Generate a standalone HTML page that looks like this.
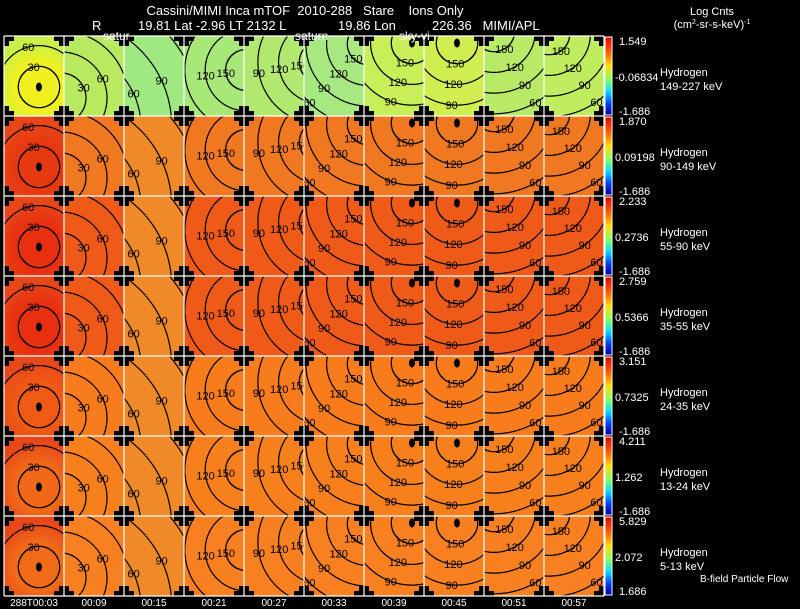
<!DOCTYPE html>
<html><head><meta charset="utf-8">
<style>
html,body{margin:0;padding:0;background:#000;}
body{width:800px;height:609px;overflow:hidden;font-family:"Liberation Sans",sans-serif;}
svg text{font-family:"Liberation Sans",sans-serif;}
</style></head>
<body>
<svg id="chart" width="800" height="609" viewBox="0 0 800 609" xmlns="http://www.w3.org/2000/svg" style="display:block">
<defs>
<linearGradient id="cbar" x1="0" y1="0" x2="0" y2="1">
<stop offset="0" stop-color="#e00000"/><stop offset="0.2" stop-color="#ff6000"/>
<stop offset="0.38" stop-color="#ffe000"/><stop offset="0.55" stop-color="#80ff60"/>
<stop offset="0.7" stop-color="#00e0ff"/><stop offset="0.85" stop-color="#0040ff"/>
<stop offset="1" stop-color="#0000a0"/></linearGradient>
</defs>
<text x="305" y="15" fill="#fff" font-size="13" text-anchor="middle" xml:space="preserve">Cassini/MIMI Inca mTOF  2010-288   Stare    Ions Only</text>
<text x="92" y="30" fill="#fff" font-size="13">R</text>
<text x="138" y="30" fill="#fff" font-size="13">19.81 Lat -2.96 LT 2132 L</text>
<text x="338" y="30" fill="#fff" font-size="13">19.86 Lon</text>
<text x="432" y="30" fill="#fff" font-size="13" xml:space="preserve">226.36   MIMI/APL</text>
<text x="712" y="15" fill="#fff" font-size="11" text-anchor="middle">Log Cnts</text>
<text x="712" y="28" fill="#fff" font-size="11" text-anchor="middle">(cm<tspan font-size="7" dy="-4">2</tspan><tspan dy="4">-sr-s-keV)</tspan><tspan font-size="7" dy="-4">-1</tspan></text>
<g id="panels"></g>
<g id="overlay"></g>
</svg>
<script>
// ---- data ----
const times = ["288T00:03","00:09","00:15","00:21","00:27","00:33","00:39","00:45","00:51","00:57"];
const energies = ["149-227 keV","90-149 keV","55-90 keV","35-55 keV","24-35 keV","13-24 keV","5-13 keV"];
const cbarMax = ["1.549","1.870","2.233","2.759","3.151","4.211","5.829"];
const cbarMid = ["-0.06834","0.09198","0.2736","0.5366","0.7325","1.262","2.072"];
const cbarMin = ["-1.686","-1.686","-1.686","-1.686","-1.686","-1.686","1.686"];
const rowBase = [null,"#f07820","#f05a18","#f05a18","#f87c1c","#f8801c","#f88020"];
const rowCenter = ["#f0f020","#e83810","#e83010","#e83010","#f05a14","#f06818","#f06a18"];
const rowOneCols = ["#c8f048","#b8ea60","#a0e880","#a8e878","#b0e870","#a8e880","#c8ee58","#d0ee50","#b8ea68","#c0ec60"];
const colTint = ["#e84818",null,"#f08a28",null,null,null,null,null,null,null];
// contour geometry per column
const cCx = [35,-3,-60,62,76,64,48,33,10,5];
const cCy = [51,62,90,34,26,8,7,7,-5,-2];
const cRef = [0,0,0,180,180,180,180,180,180,180];
const cOff = [0,4,15,0,0,0,0,0,0,0];
const cSc = [0.69,0.7,1.03,0.68,0.69,0.69,0.69,0.69,0.69,0.69];
const cLevels = [[30,60],[30,60,90],[60,90,120],[90,120,150],[90,120,150],[60,90,120,150],[60,90,120,150],[60,90,120,150],[60,90,120,150],[60,90,120,150]];
const cLabelAng = [-105,-25,-25,172,170,135,110,95,60,55];
const dotCols = [0,6,7];

const X0=4, Y0=36, PW=60, PH=80;
const NS="http://www.w3.org/2000/svg";
const G=document.getElementById('panels');
const O=document.getElementById('overlay');
function mk(tag,attrs,parent){const e=document.createElementNS(NS,tag);for(const k in attrs)e.setAttribute(k,attrs[k]);parent.appendChild(e);return e;}
const defs=document.querySelector('defs');
function inside(px,py,x,y){return px>=x&&px<=x+PW&&py>=y&&py<=y+PH;}

for(let r=0;r<energies.length;r++){
  for(let c=0;c<times.length;c++){
    const x=X0+c*PW, y=Y0+r*PH;
    let base = r===0 ? rowOneCols[c] : (colTint[c] && c!==0 ? colTint[c] : rowBase[r]);
    const outer = c===0 ? (r===0 ? rowOneCols[0] : colTint[0]) : base;
    const gid='g'+r+'_'+c;
    const rg=mk('radialGradient',{id:gid,gradientUnits:'userSpaceOnUse',cx:x+(c===0?35:30),cy:y+(c===0?51:40),r:45},defs);
    mk('stop',{offset:'0','stop-color':c===0?rowCenter[r]:base},rg);
    mk('stop',{offset:c===0?'0.55':'0','stop-color':c===0?rowCenter[r]:base},rg);
    mk('stop',{offset:'1','stop-color':outer},rg);
    const g=mk('g',{},G);
    
    
    mk('rect',{x:x,y:y,width:PW,height:PH,fill:'url(#'+gid+')'},g);
    const cx=x+cCx[c], cy=y+cCy[c];
    cLevels[c].forEach(lv=>{
      const rad=cOff[c]+Math.abs(lv-cRef[c])*cSc[c];
      let d='', pen=false;
      for(let k=0;k<=1440;k++){
        const a=k*Math.PI/720;
        const px=cx+rad*Math.cos(a), py=cy+rad*Math.sin(a);
        if(inside(px,py,x,y)){d+=(pen?'L':'M')+px.toFixed(1)+' '+py.toFixed(1);pen=true;}
        else pen=false;
      }
      if(d){
        const p=mk('path',{d:d,fill:'none',stroke:'#000','stroke-width':1.2},g);
        
        
      }
      const a=cLabelAng[c]*Math.PI/180;
      const lx=cx+rad*Math.cos(a), ly=cy+rad*Math.sin(a);
      if(lx>x+4&&lx<x+PW-4&&ly>y+4&&ly<y+PH-4){
        const t=mk('text',{x:lx,y:ly+4,'font-size':11,'text-anchor':'middle',fill:'#000'},g);
        
        
        t.textContent=lv;
      }
    });
    if(dotCols.includes(c)){
      const d=mk('ellipse',{cx:cx,cy:cy,rx:3,ry:4.5,fill:'#000'},g);
      
      
    }
    [[x,y,1,1],[x+PW,y,-1,1],[x,y+PH,1,-1],[x+PW,y+PH,-1,-1]].forEach(([px,py,sx,sy])=>{
      mk('rect',{x:sx>0?px:px-10,y:sy>0?py:py-5,width:10,height:5,fill:'#000'},g);
      mk('rect',{x:sx>0?px:px-5,y:sy>0?py:py-10,width:5,height:10,fill:'#000'},g);
    });
  }
  const by=Y0+r*PH;
  const cb=mk('rect',{x:605,y:by+1,width:7,height:PH-2,fill:'url(#cbar)',stroke:'#fff','stroke-width':1},O);
  
  
  [[cbarMax[r],by+9,619],[cbarMid[r],by+45,615],[cbarMin[r],by+79,619]].forEach(([s,ty,tx],i)=>{
    const t=mk('text',{x:tx,y:ty,'font-size':11,fill:'#fff'},O);
    
    
    t.textContent=s;
  });
  const h=mk('text',{x:660,y:by+40,'font-size':11,fill:'#fff'},O);
  
  
  h.textContent='Hydrogen';
  const e=mk('text',{x:660,y:by+54,'font-size':11,fill:'#fff'},O);
  
  
  e.textContent=energies[r];
}
for(let c=0;c<=times.length;c++){
  const l=mk('line',{x1:X0+c*PW,y1:Y0,x2:X0+c*PW,y2:Y0+7*PH,stroke:'#fff','stroke-width':1.2},O);
  
  
}
for(let r=0;r<=energies.length;r++){
  const l=mk('line',{x1:X0,y1:Y0+r*PH,x2:X0+10*PW,y2:Y0+r*PH,stroke:'#fff','stroke-width':1.2},O);
  
  
}
times.forEach((t,c)=>{
  const e=mk('text',{x:X0+c*PW+30,y:606,'font-size':10,fill:'#fff','text-anchor':'middle'},O);
  
  
  e.textContent=t;
});
[["satur",103],["saturn",295],["sky-vi",399]].forEach(([s,x])=>{
  const e=mk('text',{x:x,y:40,'font-size':12,fill:'#fff'},O);
  
  
  e.textContent=s;
});
const bf=mk('text',{x:700,y:582,'font-size':10,fill:'#fff'},O);


bf.textContent='B-field Particle Flow';
</script>
</body></html>
